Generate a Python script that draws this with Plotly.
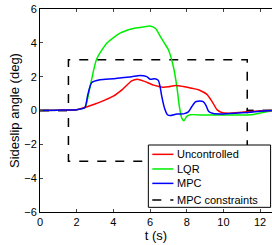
import plotly.graph_objects as go

# ---- data ----
t_unc = [0, 1, 2, 2.45, 3.0, 3.5, 4.0, 4.5, 5.0, 5.3, 5.7, 6.2, 6.7, 7.0, 7.4, 7.8, 8.2, 8.7, 9.1, 9.4, 9.65, 9.9, 10.3, 11.0, 11.5, 12.0, 12.7]
y_unc = [0, 0.02, 0.05, 0.18, 0.38, 0.6, 0.85, 1.25, 1.75, 1.85, 1.72, 1.5, 1.38, 1.4, 1.48, 1.42, 1.33, 1.2, 0.95, 0.5, 0.05, -0.12, -0.16, -0.1, -0.06, -0.02, 0.0]

t_lqr = [0, 1, 2, 2.45, 2.73, 3.09, 3.64, 4.36, 5.09, 5.6, 6.0, 6.3, 6.55, 6.8, 7.0, 7.27, 7.46, 7.6, 7.73, 7.85, 8.0, 8.2, 9.0, 10.0, 11.0, 11.5, 12.0, 12.7]
y_lqr = [0, 0.02, 0.05, 0.18, 1.42, 3.04, 3.98, 4.57, 4.85, 4.93, 5.0, 4.85, 4.4, 3.95, 3.59, 2.6, 1.42, 0.24, -0.45, -0.6, -0.35, -0.25, -0.27, -0.27, -0.27, -0.25, -0.15, 0.0]

t_mpc = [0, 1, 2, 2.45, 2.6, 2.82, 3.27, 4.0, 4.55, 5.0, 5.45, 5.82, 6.0, 6.27, 6.45, 6.55, 6.64, 6.8, 6.95, 7.1, 7.46, 7.82, 8.09, 8.27, 8.46, 8.6, 8.9, 9.05, 9.2, 9.45, 10.0, 11.0, 11.5, 12.0, 12.7]
y_mpc = [0, 0.02, 0.05, 0.18, 0.9, 1.65, 1.82, 1.88, 1.95, 2.0, 2.07, 2.0, 1.85, 1.88, 1.78, 1.4, 0.83, 0.1, -0.25, -0.3, -0.21, -0.2, -0.08, 0.22, 0.5, 0.55, 0.52, 0.3, -0.06, -0.18, -0.2, -0.14, -0.1, -0.04, 0.0]

t_con = [0, 1.55, 1.55, 11.3, 11.3, 12.7]
y_con_up = [0, 0, 3, 3, 0, 0]
y_con_lo = [0, 0, -3, -3, 0, 0]

x_ticks = [0, 2, 4, 6, 8, 10, 12]
y_ticks = [-6, -4, -2, 0, 2, 4, 6]

legend_names = ["Uncontrolled", "LQR", "MPC", "MPC constraints"]
legend_colors = ["#ff0000", "#00ee00", "#0000ff", "black"]
legend_dash = ["solid", "solid", "solid", "dash"]

fig = go.Figure()
fig.add_trace(go.Scatter(x=t_con, y=y_con_up, mode="lines",
                         line=dict(color="black", width=1.5, dash="dash")))
fig.add_trace(go.Scatter(x=t_con, y=y_con_lo, mode="lines",
                         line=dict(color="black", width=1.5, dash="dash")))
fig.add_trace(go.Scatter(x=t_lqr, y=y_lqr, mode="lines",
                         line=dict(color=legend_colors[1], width=1.5, shape="spline", smoothing=0.6)))
fig.add_trace(go.Scatter(x=t_unc, y=y_unc, mode="lines",
                         line=dict(color=legend_colors[0], width=1.5, shape="spline", smoothing=0.6)))
fig.add_trace(go.Scatter(x=t_mpc, y=y_mpc, mode="lines",
                         line=dict(color=legend_colors[2], width=1.5, shape="spline", smoothing=0.6)))

# ---- compact legend box (paper coords) ----
box_x0, box_x1, box_y0, box_y1 = 0.467, 0.994, 0.023, 0.330
row_y = [0.284, 0.212, 0.141, 0.059]
fig.add_shape(type="rect", xref="paper", yref="paper", x0=box_x0, x1=box_x1, y0=box_y0, y1=box_y1,
              line=dict(color="black", width=1), fillcolor="white", layer="above")
for name, col, dsh, ry in zip(legend_names, legend_colors, legend_dash, row_y):
    fig.add_shape(type="line", xref="paper", yref="paper", x0=0.484, x1=0.575, y0=ry, y1=ry,
                  line=dict(color=col, width=1.5, dash=dsh), layer="above")
    fig.add_annotation(xref="paper", yref="paper", x=0.582, y=ry, text=name, showarrow=False,
                       xanchor="left", yanchor="middle", font=dict(size=11, color="black"))

font = dict(family="Liberation Sans, Arial, sans-serif", size=11, color="black")
fig.update_layout(
    width=272, height=245,
    margin=dict(l=40, r=0, t=9, b=33, autoexpand=False),
    paper_bgcolor="white", plot_bgcolor="white",
    font=font,
    showlegend=False,
    xaxis=dict(range=[0, 12.65], tickvals=x_ticks, ticks="inside", ticklen=3,
               showline=True, linecolor="black", linewidth=1, mirror="ticks",
               showgrid=False, zeroline=False,
               title=dict(text="t (s)", standoff=0), tickfont=font),
    yaxis=dict(range=[-6, 6], tickvals=y_ticks, ticks="inside", ticklen=3,
               showline=True, linecolor="black", linewidth=1,
               showgrid=False, zeroline=False,
               title=dict(text="Sideslip angle (deg)", standoff=1), tickfont=font),
)
fig.write_html("out.html", config={"displayModeBar": False},
               post_script="document.body.style.margin='0';document.body.style.overflow='hidden';")
